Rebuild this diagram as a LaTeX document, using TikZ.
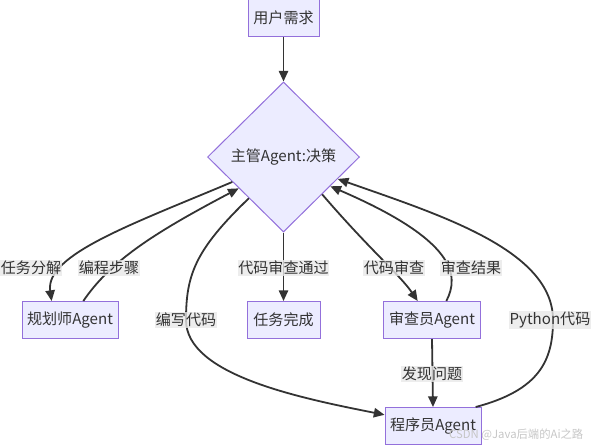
\documentclass[tikz,border=0pt]{standalone}
\usepackage{fontspec}
\setmainfont{Noto Sans CJK SC}
\usetikzlibrary{positioning}
\usetikzlibrary{arrows.meta}
\usetikzlibrary{shapes.geometric}
\definecolor{nodefill}{HTML}{ECECFF}
\definecolor{nodeline}{HTML}{9370DB}
\definecolor{edgeline}{HTML}{333333}
\definecolor{lblfill}{HTML}{E8E8E8}

\begin{document}
\begin{tikzpicture}[x=0.75pt, y=-0.75pt,
    font=\fontsize{11.3pt}{13pt}\selectfont, text=edgeline,
    box/.style={draw=nodeline, fill=nodefill, line width=0.75pt, minimum height=27.75pt, inner sep=0pt},
    lbl/.style={fill=lblfill, fill opacity=0.8, text opacity=1, inner xsep=0.5pt, inner ysep=1pt},
    edge/.style={draw=edgeline, line width=1.35pt},
    tip/.style={edge, -{Triangle[length=8pt,width=7pt]}}]

    % Draw canvas
    \useasboundingbox (0,0) rectangle (591,446);

    % Draw nodes
    \node[box, minimum width=53.25pt] (req) at (283.5,18) {用户需求};
    \node[box, diamond, minimum width=114pt, minimum height=112.5pt] (dec) at (283.5,157) {主管Agent:决策};
    \node[box, minimum width=72pt] (planner) at (70,320) {规划师Agent};
    \node[box, minimum width=54.75pt] (done) at (283.5,320) {任务完成};
    \node[box, minimum width=72.75pt] (reviewer) at (432,320) {审查员Agent};
    \node[box, minimum width=72pt] (coder) at (433,426) {程序员Agent};

    % Draw edges
    \draw[tip] (req.south) -- (dec.north);
    \draw[tip] (dec.206) .. controls (130,225) and (45,255) .. (planner.134);
    \draw[tip] (planner.55) .. controls (110,262) and (150,235) .. (dec.215);
    \draw[tip] (dec.230) .. controls (195,250) and (186,275) .. (186,320) .. controls (186,375) and (300,398) .. (coder.167);
    \draw[tip] (dec.south) -- (done.north);
    \draw[tip] (dec.316) .. controls (370,250) and (400,275) .. (reviewer.127);
    \draw[tip] (reviewer.53) .. controls (460,275) and (455,240) .. (dec.328);
    \draw[tip] (coder.24) .. controls (540,390) and (553,360) .. (553,320) .. controls (553,250) and (440,215) .. (dec.338);
    \draw[tip] (reviewer.south) -- (coder.north);

    % Edge labels
    \node[lbl] (lSplit) at (31,268) {任务分解};
    \node[lbl] (lSteps) at (109,268) {编程步骤};
    \node[lbl] (lWrite) at (186,320) {编写代码};
    \node[lbl] (lPass) at (283.5,268) {代码审查通过};
    \node[lbl] (lReview) at (394,268) {代码审查};
    \node[lbl] (lResult) at (471,268) {审查结果};
    \node[lbl] (lPython) at (550,320) {Python代码};
    \node[lbl] (lIssue) at (432,374) {发现问题};

    \node[text=gray!45, font=\fontsize{8.5pt}{10pt}\selectfont, anchor=east] (mark) at (588,435) {CSDN @Java后端的Ai之路};

\end{tikzpicture}
\end{document}
